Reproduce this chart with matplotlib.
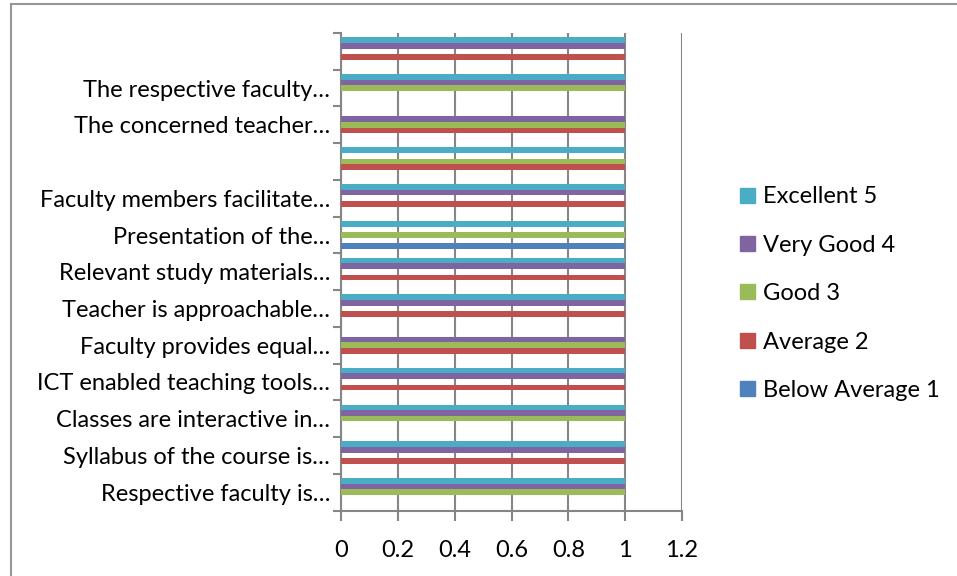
import numpy as np
import matplotlib
matplotlib.use("Agg")
import matplotlib.pyplot as plt
from matplotlib.lines import Line2D
from matplotlib.patches import Patch

plt.rcParams['font.family'] = ['Lato', 'DejaVu Sans']

# categories, bottom to top
categories = ['Respective faculty is…', 'Syllabus of the course is…',
              'Classes are interactive in…', 'ICT enabled teaching tools…',
              'Faculty provides equal…', 'Teacher is approachable…',
              'Relevant study materials…', 'Presentation of the…',
              'Faculty members facilitate…', '', 'The concerned teacher…',
              'The respective faculty…', '']

below_avg = [0, 0, 0, 0, 0, 0, 0, 1, 0, 0, 0, 0, 0]
average   = [0, 1, 0, 1, 1, 1, 1, 0, 1, 1, 1, 0, 1]
good      = [1, 0, 1, 0, 1, 0, 0, 1, 0, 1, 1, 1, 0]
very_good = [1, 1, 1, 1, 1, 1, 1, 0, 1, 0, 1, 1, 1]
excellent = [1, 1, 1, 1, 0, 1, 1, 1, 1, 1, 0, 1, 1]

series = [('Below Average 1', below_avg, '#4F81BD'),
          ('Average 2', average, '#C0504D'),
          ('Good 3', good, '#9BBB59'),
          ('Very Good 4', very_good, '#8064A2'),
          ('Excellent 5', excellent, '#4BACC6')]

fig = plt.figure(figsize=(9.57, 5.76), dpi=100)
ax = fig.add_axes([341/957, 1 - 510.5/576, (682 - 341)/957, (510.5 - 33)/576])

y = np.arange(len(categories))
bh = 1 / 6.5
for i, (name, vals, col) in enumerate(series):
    ax.barh(y + (i - 2) * bh, vals, height=bh, color=col, label=name, zorder=3)

grid_c = '#868686'
fs = 17
ax.set_xlim(0, 1.2)
ax.set_ylim(-0.5, len(categories) - 0.5)
ax.set_xticks(np.arange(0, 1.21, 0.2))
ax.set_xticklabels(['0', '0.2', '0.4', '0.6', '0.8', '1', '1.2'])
ax.xaxis.grid(True, color=grid_c, linewidth=1.5, zorder=0)
ax.tick_params(axis='x', length=7, width=1.5, color=grid_c, labelsize=fs, pad=14)

ax.set_yticks(np.arange(-0.5, len(categories), 1))
ax.set_yticklabels([])
ax.set_yticks(y, minor=True)
ax.set_yticklabels(categories, minor=True)
ax.tick_params(axis='y', which='major', length=6, width=1.5, color=grid_c)
ax.tick_params(axis='y', which='minor', length=0, labelsize=fs, pad=8)

for s in ['top', 'right']:
    ax.spines[s].set_visible(False)
for s in ['left', 'bottom']:
    ax.spines[s].set_color(grid_c)
    ax.spines[s].set_linewidth(1.5)

handles = [Patch(color=c) for _, _, c in series][::-1]
labels = [n for n, _, _ in series][::-1]
fig.legend(handles, labels, loc='upper left', bbox_to_anchor=(731/957, 1 - 177/576),
           frameon=False, fontsize=fs, handlelength=0.6, handleheight=0.6,
           handletextpad=0.35, labelspacing=1.16, borderaxespad=0)

# chart border
fig.add_artist(Line2D([11/957, 1], [1 - 4/576, 1 - 4/576], color='#969696', linewidth=1.5))
fig.add_artist(Line2D([11/957, 11/957], [0, 1 - 4/576], color='#969696', linewidth=1.5))

fig.savefig('out.png', dpi=100)
